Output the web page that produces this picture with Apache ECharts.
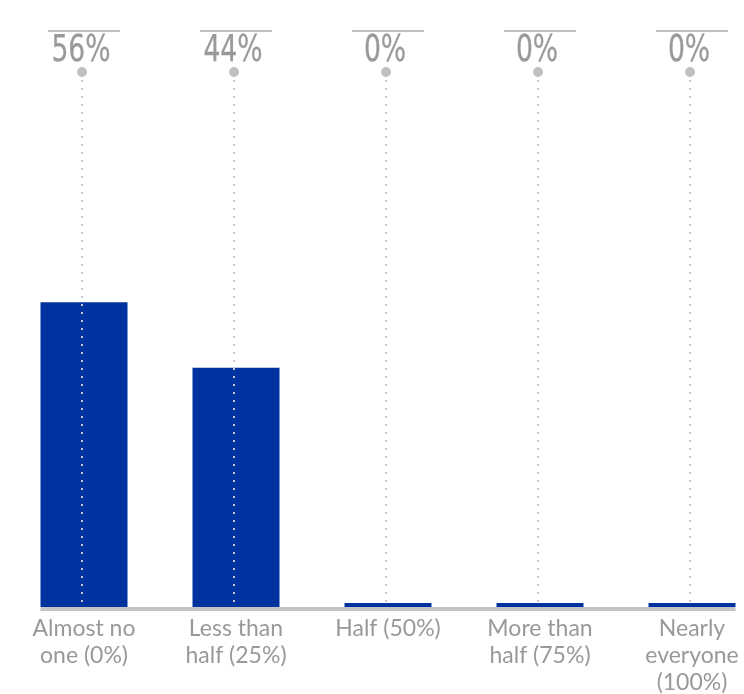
<!DOCTYPE html>
<html>
<head>
<meta charset="utf-8">
<script src="https://cdn.jsdelivr.net/npm/echarts@6/dist/echarts.min.js"></script>
<style>
  html, body { margin: 0; padding: 0; background: #ffffff; }
  #chart { width: 744px; height: 694px; }
</style>
</head>
<body>
<div id="chart"></div>
<script>
// Survey answer buckets and share of respondents (%)
var categories = [
  'Almost no\none (0%)',
  'Less than\nhalf (25%)',
  'Half (50%)',
  'More than\nhalf (75%)',
  'Nearly\neveryone\n(100%)'
];
var shares = [56, 44, 0, 0, 0];

var BAR_W = 87;
var GREY = '#999999';
var RULE = '#bfbfc3';

var chart = echarts.init(document.getElementById('chart'), null, { renderer: 'canvas' });

// Header label, pin dot and dotted drop line above each column
function renderPins(params, api) {
  var idx = api.value(0);
  var pt = api.coord([idx, 0]);
  var x = pt[0], base = pt[1];
  var top = params.coordSys.y;
  return {
    type: 'group',
    children: [
      { type: 'line', shape: { x1: x - 36, y1: top - 32, x2: x + 36, y2: top - 32 },
        style: { stroke: RULE, lineWidth: 2 } },
      { type: 'text', x: x - 3, y: top - 12, scaleX: 0.8,
        style: { text: api.value(1) + '%', x: 0, y: 0, align: 'center', verticalAlign: 'middle',
                 font: '37px "Liberation Sans Narrow", "DejaVu Sans Condensed", sans-serif',
                 fill: GREY, stroke: GREY, lineWidth: 0.25 } },
      { type: 'line', shape: { x1: x - 2, y1: top + 9, x2: x - 2, y2: base },
        style: { stroke: '#c9c9cd', lineWidth: 2, lineDash: [2, 6] } },
      { type: 'circle', shape: { cx: x - 2, cy: top + 9, r: 5 },
        style: { fill: RULE } }
    ]
  };
}

// Baseline running from the first column's left edge to the last column's right edge
function renderBase(params, api) {
  var first = api.coord([0, 0]);
  var last = api.coord([categories.length - 1, 0]);
  return {
    type: 'rect',
    shape: { x: first[0] - BAR_W / 2, y: first[1], width: last[0] - first[0] + BAR_W, height: 4 },
    style: { fill: '#c4c4c8' }
  };
}

chart.setOption({
  animation: false,
  grid: { left: 8, top: 63, width: 760, bottom: 87, containLabel: false, outerBoundsMode: 'none' },
  xAxis: {
    type: 'category',
    data: categories,
    axisLine: { show: false },
    axisTick: { show: false },
    axisLabel: {
      interval: 0,
      margin: 8,
      color: GREY,
      fontFamily: 'Lato, "Open Sans", sans-serif',
      fontSize: 23,
      lineHeight: 27
    }
  },
  yAxis: {
    type: 'value',
    min: 0,
    max: 100,
    show: false,
    splitLine: { show: false }
  },
  series: [
    {
      type: 'bar',
      data: shares,
      barWidth: BAR_W,
      barMinHeight: 4,
      itemStyle: { color: '#0033a0' },
      z: 2
    },
    {
      type: 'custom',
      renderItem: renderBase,
      data: [[0, 0]],
      z: 3,
      silent: true
    },
    {
      type: 'custom',
      renderItem: renderPins,
      data: shares.map(function (v, i) { return [i, v]; }),
      z: 4,
      silent: true
    }
  ]
});
</script>
</body>
</html>
